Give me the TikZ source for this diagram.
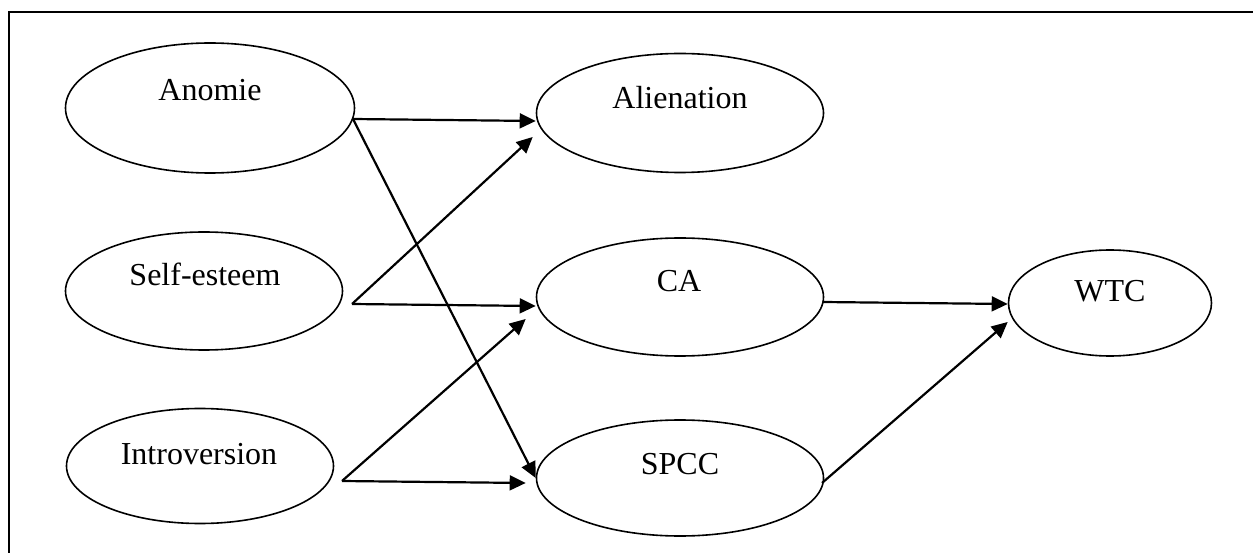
\documentclass[tikz,border=0pt]{standalone}
\usepackage{fontspec}
\setmainfont{Liberation Serif}
\usetikzlibrary{shapes.geometric,arrows.meta}
\begin{document}
\begin{tikzpicture}[x=1pt,y=-1pt,
  oval/.style={draw,ellipse,line width=1.6pt,inner sep=0pt},
  lbl/.style={anchor=base,inner sep=0pt,font=\fontsize{32}{38}\selectfont},
  arr/.style={line width=2.2pt,-{Triangle[length=16pt,width=15pt]}},
  frameline/.style={line width=2.2pt}]
\useasboundingbox (0,0) rectangle (1253,553);
\coordinate (ftop) at (1253,12);
\coordinate (fcorner) at (9,12);
\coordinate (fbot) at (9,553);
\draw[frameline] (ftop) -- (fcorner) -- (fbot);

\node[oval,minimum width=289pt,minimum height=130pt] (anomie) at (210,108) {};
\node[oval,minimum width=277pt,minimum height=118pt] (selfest) at (204,291) {};
\node[oval,minimum width=267pt,minimum height=115pt] (introv) at (200,466) {};
\node[oval,minimum width=287pt,minimum height=119pt] (alien) at (680,113) {};
\node[oval,minimum width=287pt,minimum height=118pt] (ca) at (680,297) {};
\node[oval,minimum width=287pt,minimum height=116pt] (spcc) at (680,478) {};
\node[oval,minimum width=203pt,minimum height=106pt] (wtc) at (1110,303) {};

\node[lbl] (t-anomie) at (210,101) {Anomie};
\node[lbl] (t-selfest) at (205,286) {Self-esteem};
\node[lbl] (t-introv) at (199,464) {Introversion};
\node[lbl] (t-alien) at (680,109) {Alienation};
\node[lbl] (t-ca) at (679,292) {CA};
\node[lbl] (t-spcc) at (680,474) {SPCC};
\node[lbl] (t-wtc) at (1110,302) {WTC};

\coordinate (an-out) at (353,119);
\coordinate (se-out) at (352,304);
\coordinate (in-out) at (342,481);
\coordinate (ca-out) at (823,302);
\coordinate (sp-out) at (822,483);

\draw[arr] (an-out) -- ([yshift=-8pt]alien.west);
\draw[arr] (an-out) -- (spcc.west);
\draw[arr] (se-out) -- ([xshift=-3pt,yshift=-24pt]alien.west);
\draw[arr] (se-out) -- ([yshift=-9pt]ca.west);
\draw[arr] (in-out) -- ([xshift=-10pt,yshift=-22pt]ca.west);
\draw[arr] (in-out) -- ([xshift=-10pt,yshift=-5pt]spcc.west);
\draw[arr] (ca-out) -- ([yshift=-1pt]wtc.west);
\draw[arr] (sp-out) -- ([yshift=-19pt]wtc.west);
\end{tikzpicture}
\end{document}
